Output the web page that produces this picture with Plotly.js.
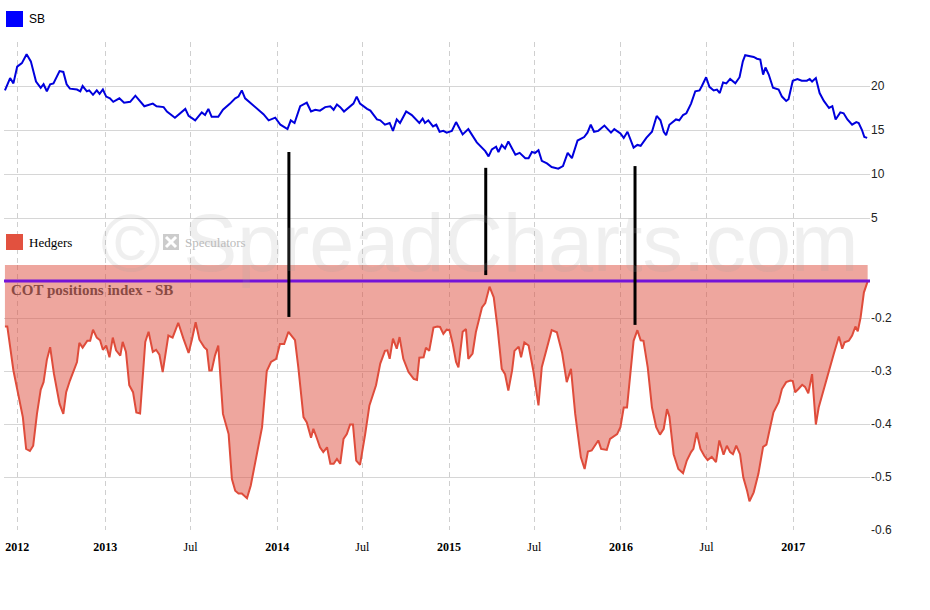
<!DOCTYPE html>
<html>
<head>
<meta charset="utf-8">
<script src="https://cdn.plot.ly/plotly-3.0.1.min.js"></script>
<style>
  html, body { margin: 0; padding: 0; background: #fff; }
  #chart { width: 930px; height: 610px; }
</style>
</head>
<body>
<div id="chart"></div>
<script>
// SB price (upper pane)
const sbDates = [
  '2012-06-02','2012-06-13','2012-06-20','2012-06-28','2012-07-08','2012-07-18','2012-07-27','2012-08-07','2012-08-17','2012-08-23',
  '2012-08-30','2012-09-06','2012-09-13','2012-09-26','2012-10-04','2012-10-11','2012-10-18','2012-11-02','2012-11-09','2012-11-14',
  '2012-11-23','2012-11-28','2012-12-06','2012-12-14','2012-12-20','2012-12-27',
  '2013-01-03','2013-01-11','2013-01-18','2013-01-31','2013-02-10','2013-02-23','2013-03-06','2013-03-16','2013-03-25','2013-04-12',
  '2013-04-20','2013-05-05','2013-05-12','2013-05-29','2013-06-16','2013-06-20','2013-06-27','2013-07-11','2013-07-25','2013-08-01',
  '2013-08-08','2013-08-15','2013-08-29','2013-09-08','2013-09-23','2013-10-04','2013-10-11','2013-10-18','2013-10-25','2013-11-12',
  '2013-11-26','2013-12-03','2013-12-14','2013-12-28',
  '2014-01-08','2014-01-23','2014-01-30','2014-02-07','2014-02-19','2014-03-05','2014-03-14','2014-03-23','2014-04-02','2014-04-13',
  '2014-04-24','2014-05-01','2014-05-08','2014-05-15','2014-05-23','2014-06-07','2014-06-12','2014-06-19','2014-06-26','2014-07-11',
  '2014-07-18','2014-08-01','2014-08-08','2014-08-18','2014-08-28','2014-09-04','2014-09-12','2014-09-19','2014-10-02','2014-10-14',
  '2014-10-30','2014-11-06','2014-11-11','2014-11-18','2014-11-28','2014-12-05','2014-12-12','2014-12-20','2014-12-27',
  '2015-01-07','2015-01-16','2015-01-30','2015-02-11','2015-03-01','2015-03-12','2015-03-19','2015-03-26','2015-04-02','2015-04-11',
  '2015-04-16','2015-04-23','2015-04-30','2015-05-07','2015-05-15','2015-05-22','2015-05-31','2015-06-12','2015-06-19','2015-06-26',
  '2015-07-03','2015-07-10','2015-07-17','2015-07-28','2015-08-07','2015-08-21','2015-08-31','2015-09-10','2015-09-19','2015-10-01',
  '2015-10-15','2015-10-22','2015-10-29','2015-11-05','2015-11-14','2015-11-27','2015-12-11','2015-12-18','2015-12-31',
  '2016-01-07','2016-01-15','2016-01-22','2016-01-28','2016-02-05','2016-02-12','2016-02-24','2016-03-07','2016-03-17','2016-03-25',
  '2016-04-01','2016-04-06','2016-04-13','2016-04-27','2016-05-04','2016-05-12','2016-05-19','2016-05-29','2016-06-07','2016-06-16',
  '2016-06-21','2016-06-30','2016-07-07','2016-07-16','2016-07-23','2016-07-29','2016-08-05','2016-08-12','2016-08-20','2016-08-31',
  '2016-09-09','2016-09-16','2016-09-21','2016-10-02','2016-10-09','2016-10-16','2016-10-23','2016-10-29','2016-11-03','2016-11-10',
  '2016-11-19','2016-12-01','2016-12-08','2016-12-17','2016-12-22','2016-12-31',
  '2017-01-10','2017-01-19','2017-01-30','2017-02-05','2017-02-10','2017-02-18','2017-02-26','2017-03-07','2017-03-18','2017-03-25',
  '2017-04-01','2017-04-11','2017-04-18','2017-04-26','2017-05-06','2017-05-15','2017-05-20','2017-05-27','2017-06-01','2017-06-07'
];
const sbPrice = [
  19.5,20.9,20.3,22.2,22.6,23.6,22.8,20.5,19.8,20.2,
  19.4,20.2,20.3,21.7,21.6,20.2,19.7,19.6,19.4,20.0,
  19.4,19.5,19.0,19.5,19.1,19.6,
  18.8,18.6,18.2,18.6,18.1,18.2,18.9,18.2,17.7,18.0,
  17.7,17.6,17.1,16.4,17.3,17.4,16.6,16.1,17.0,16.7,
  17.4,16.5,16.5,17.3,18.0,18.6,18.8,19.5,18.6,17.8,
  17.2,16.8,16.1,16.4,
  15.6,15.1,16.1,15.8,17.7,18.1,17.1,17.3,17.2,17.6,
  17.7,17.3,17.9,17.6,17.1,17.8,18.0,18.8,18.0,17.4,
  17.2,16.2,16.1,15.6,15.8,14.9,16.2,15.8,17.1,16.7,
  15.8,16.3,15.8,16.1,15.4,15.6,14.8,14.9,14.7,
  14.9,15.9,14.5,15.1,13.6,13.0,12.6,12.0,12.8,13.1,
  12.5,13.3,12.9,13.7,12.9,12.2,12.4,11.8,11.8,12.5,
  12.4,12.7,11.5,11.2,10.8,10.6,10.9,12.4,11.8,13.8,
  14.2,14.7,15.6,14.8,14.9,15.5,14.7,15.1,14.6,
  14.1,14.8,13.9,13.0,13.3,13.2,14.1,14.8,16.6,16.1,
  14.8,14.4,15.6,16.2,16.1,16.7,16.9,18.0,19.4,19.5,
  20.0,21.0,19.9,19.5,19.6,19.2,20.4,20.3,20.8,20.3,
  21.0,22.8,23.5,23.4,23.3,23.1,23.0,21.3,22.1,21.3,
  19.8,19.6,18.8,18.3,18.5,20.6,
  20.8,20.6,20.6,20.8,20.5,20.9,19.2,18.3,17.5,17.7,
  16.2,17.0,16.9,16.2,15.6,15.9,15.8,15.0,14.2,14.1
];

// COT positions index, hedgers (lower pane)
const cotDates = [
  '2012-06-02','2012-06-07','2012-06-20','2012-07-01','2012-07-10','2012-07-17','2012-07-25','2012-08-01','2012-08-09','2012-08-17',
  '2012-08-23','2012-08-30','2012-09-06','2012-09-14','2012-09-26','2012-10-04','2012-10-10','2012-10-18','2012-11-02','2012-11-07',
  '2012-11-14','2012-11-24','2012-11-30','2012-12-06','2012-12-14','2012-12-21','2012-12-27',
  '2013-01-03','2013-01-10','2013-01-17','2013-01-24','2013-02-02','2013-02-07','2013-02-14','2013-02-21','2013-03-01','2013-03-08',
  '2013-03-16','2013-03-27','2013-04-03','2013-04-12','2013-04-19','2013-04-26','2013-05-03','2013-05-15','2013-05-24','2013-06-05',
  '2013-06-16','2013-06-27','2013-07-04','2013-07-12','2013-07-20','2013-07-30','2013-08-05','2013-08-10','2013-08-15','2013-08-22',
  '2013-08-29','2013-09-08','2013-09-20','2013-09-27','2013-10-04','2013-10-11','2013-10-18','2013-10-29','2013-11-06','2013-11-17',
  '2013-11-30','2013-12-10','2013-12-19','2013-12-30',
  '2014-01-07','2014-01-16','2014-01-25','2014-02-08','2014-02-15','2014-02-26','2014-03-05','2014-03-14','2014-03-19','2014-03-26',
  '2014-04-02','2014-04-09','2014-04-17','2014-04-24','2014-05-01','2014-05-08','2014-05-15','2014-05-22','2014-05-29','2014-06-05',
  '2014-06-11','2014-06-18','2014-06-26','2014-07-07','2014-07-16','2014-07-30','2014-08-08','2014-08-18','2014-08-23','2014-08-28',
  '2014-09-04','2014-09-12','2014-09-18','2014-09-26','2014-10-07','2014-10-18','2014-10-25','2014-10-30','2014-11-08','2014-11-13',
  '2014-11-20','2014-11-29','2014-12-07','2014-12-13','2014-12-20','2014-12-27',
  '2015-01-02','2015-01-09','2015-01-16','2015-01-21','2015-01-30','2015-02-06','2015-02-11','2015-02-20','2015-02-27','2015-03-12',
  '2015-03-19','2015-03-28','2015-04-06','2015-04-14','2015-04-23','2015-04-30','2015-05-07','2015-05-15','2015-05-20','2015-05-29',
  '2015-06-03','2015-06-10','2015-06-19','2015-06-29','2015-07-10','2015-07-17','2015-07-26','2015-08-07','2015-08-18','2015-08-29',
  '2015-09-08','2015-09-17','2015-09-26','2015-10-08','2015-10-16','2015-10-23','2015-10-31','2015-11-14','2015-11-20','2015-12-02',
  '2015-12-09','2015-12-24','2015-12-31',
  '2016-01-07','2016-01-14','2016-01-21','2016-01-28','2016-02-05','2016-02-12','2016-02-18','2016-02-27','2016-03-07','2016-03-16',
  '2016-03-24','2016-04-01','2016-04-08','2016-04-13','2016-04-22','2016-05-02','2016-05-12','2016-05-20','2016-05-29','2016-06-03',
  '2016-06-10','2016-06-18','2016-06-26','2016-07-03','2016-07-12','2016-07-21','2016-07-28','2016-08-06','2016-08-13','2016-08-20',
  '2016-08-26','2016-09-02','2016-09-10','2016-09-17','2016-09-25','2016-09-30','2016-10-09','2016-10-19','2016-10-29','2016-11-05',
  '2016-11-13','2016-11-20','2016-12-01','2016-12-08','2016-12-17','2016-12-26','2016-12-31',
  '2017-01-05','2017-01-12','2017-01-20','2017-01-26','2017-02-02','2017-02-10','2017-02-18','2017-02-24','2017-03-07','2017-03-17',
  '2017-03-28','2017-04-08','2017-04-15','2017-04-20','2017-04-29','2017-05-06','2017-05-13','2017-05-18','2017-05-24','2017-05-31',
  '2017-06-08'
];
const hedgers = [
  -0.216,-0.216,-0.299,-0.349,-0.387,-0.447,-0.451,-0.441,-0.381,-0.335,
  -0.321,-0.279,-0.255,-0.305,-0.362,-0.381,-0.340,-0.318,-0.283,-0.247,
  -0.256,-0.243,-0.243,-0.222,-0.237,-0.242,-0.260,
  -0.252,-0.274,-0.237,-0.261,-0.271,-0.245,-0.264,-0.327,-0.340,-0.378,
  -0.380,-0.245,-0.226,-0.264,-0.260,-0.269,-0.302,-0.233,-0.237,-0.209,
  -0.239,-0.266,-0.241,-0.208,-0.241,-0.255,-0.260,-0.299,-0.299,-0.271,
  -0.252,-0.381,-0.419,-0.504,-0.526,-0.531,-0.531,-0.540,-0.516,-0.463,
  -0.406,-0.300,-0.283,-0.277,
  -0.249,-0.249,-0.226,-0.242,-0.293,-0.387,-0.397,-0.426,-0.409,-0.426,
  -0.444,-0.453,-0.444,-0.475,-0.475,-0.466,-0.475,-0.428,-0.419,-0.401,
  -0.401,-0.469,-0.477,-0.419,-0.365,-0.327,-0.286,-0.262,-0.261,-0.277,
  -0.239,-0.258,-0.236,-0.277,-0.302,-0.315,-0.317,-0.275,-0.274,-0.256,
  -0.262,-0.218,-0.216,-0.217,-0.230,-0.222,
  -0.223,-0.249,-0.283,-0.293,-0.226,-0.221,-0.277,-0.267,-0.227,-0.180,
  -0.172,-0.141,-0.161,-0.218,-0.296,-0.306,-0.337,-0.299,-0.262,-0.254,
  -0.274,-0.246,-0.252,-0.299,-0.365,-0.293,-0.263,-0.223,-0.227,-0.265,
  -0.321,-0.296,-0.381,-0.463,-0.485,-0.452,-0.450,-0.431,-0.447,-0.449,
  -0.428,-0.419,-0.406,
  -0.369,-0.369,-0.309,-0.243,-0.223,-0.242,-0.243,-0.293,-0.369,-0.406,
  -0.420,-0.409,-0.372,-0.386,-0.457,-0.485,-0.493,-0.469,-0.453,-0.447,
  -0.416,-0.447,-0.460,-0.468,-0.462,-0.472,-0.431,-0.458,-0.441,-0.453,
  -0.457,-0.441,-0.457,-0.501,-0.526,-0.546,-0.529,-0.494,-0.443,-0.439,
  -0.406,-0.378,-0.359,-0.334,-0.321,-0.318,-0.319,
  -0.340,-0.334,-0.326,-0.330,-0.342,-0.306,-0.401,-0.369,-0.334,-0.299,
  -0.268,-0.235,-0.258,-0.246,-0.243,-0.233,-0.216,-0.225,-0.199,-0.152,
  -0.131
];

// black marker lines: date, top (price pane), bottom (cot pane)
const signalDates = ['2014-01-26', '2015-03-20', '2016-01-31'];
const signalTop = [12.5, 10.7, 10.9];
const signalBottom = [-0.198, -0.119, -0.213];
const cotLevel = -0.13;

const xTickVals = ['2012-06-28','2013-01-01','2013-07-01','2014-01-01','2014-07-01',
                   '2015-01-01','2015-07-01','2016-01-01','2016-07-01','2017-01-01'];
const xTickText = ['<b>2012</b>','<b>2013</b>','Jul','<b>2014</b>','Jul',
                   '<b>2015</b>','Jul','<b>2016</b>','Jul','<b>2017</b>'];
const priceTicks = [5, 10, 15, 20, 25];
const priceTickText = ['5', '10', '15', '20', ''];
const cotTicks = [-0.6, -0.5, -0.4, -0.3, -0.2];

const priceRange = [-0.34, 25];
const cotRange = [-0.6, -0.1];

// pixel helpers for legend boxes / labels
const W = 930, H = 610;
const M = { l: 4, r: 60, t: 42, b: 80 };
const pw = W - M.l - M.r, ph = H - M.t - M.b;
const px = x => (x - M.l) / pw;
const py = y => (H - M.b - y) / ph;
const split = py(265);

const serif = '"Liberation Serif", "DejaVu Serif", serif';
const sans = '"Liberation Sans", Arial, sans-serif';

const traces = [
  {
    x: cotDates, y: hedgers,
    type: 'scatter', mode: 'lines', name: 'Hedgers',
    fill: 'tozeroy', fillcolor: 'rgba(222,78,62,0.5)',
    line: { color: '#df4c3b', width: 2 },
    xaxis: 'x', yaxis: 'y', hoverinfo: 'skip'
  },
  {
    x: sbDates, y: sbPrice,
    type: 'scatter', mode: 'lines', name: 'SB',
    line: { color: '#0000dd', width: 2 },
    xaxis: 'x', yaxis: 'y2', hoverinfo: 'skip'
  }
];

const shapes = [];
// threshold line
shapes.push({
  type: 'line', xref: 'paper', yref: 'y', x0: 0, x1: 1, y0: cotLevel, y1: cotLevel,
  line: { color: '#7414d8', width: 3 }
});
// vertical signals, split across the two panes
signalDates.forEach((d, i) => {
  shapes.push({ type: 'line', xref: 'x', yref: 'y2', x0: d, x1: d, y0: priceRange[0], y1: signalTop[i],
                line: { color: '#000', width: 3 } });
  shapes.push({ type: 'line', xref: 'x', yref: 'y', x0: d, x1: d, y0: signalBottom[i], y1: cotRange[1],
                line: { color: '#000', width: 3 } });
});
// legend boxes
shapes.push({ type: 'rect', xref: 'paper', yref: 'paper', x0: px(6), x1: px(23), y0: py(27), y1: py(11),
              fillcolor: '#0000ff', line: { width: 0 } });
shapes.push({ type: 'rect', xref: 'paper', yref: 'paper', x0: px(6), x1: px(23), y0: py(250), y1: py(234),
              fillcolor: '#e2513f', line: { width: 0 } });
shapes.push({ type: 'rect', xref: 'paper', yref: 'paper', x0: px(163), x1: px(179), y0: py(250), y1: py(234),
              fillcolor: '#cccccc', line: { width: 0 } });
shapes.push({ type: 'line', xref: 'paper', yref: 'paper', x0: px(166), x1: px(176), y0: py(237), y1: py(247),
              line: { color: '#fff', width: 3 } });
shapes.push({ type: 'line', xref: 'paper', yref: 'paper', x0: px(176), x1: px(166), y0: py(237), y1: py(247),
              line: { color: '#fff', width: 3 } });

const annotations = [
  { xref: 'paper', yref: 'paper', x: px(479), y: py(243), text: '© SpreadCharts.com', showarrow: false,
    font: { family: sans, size: 81, color: 'rgba(160,160,160,0.17)' }, xanchor: 'center', yanchor: 'middle' },
  { xref: 'paper', yref: 'paper', x: px(27), y: py(19), text: 'SB', showarrow: false,
    font: { family: sans, size: 12, color: '#000' }, xanchor: 'left', yanchor: 'middle' },
  { xref: 'paper', yref: 'paper', x: px(27), y: py(242), text: 'Hedgers', showarrow: false,
    font: { family: serif, size: 13, color: '#000' }, xanchor: 'left', yanchor: 'middle' },
  { xref: 'paper', yref: 'paper', x: px(183), y: py(242), text: 'Speculators', showarrow: false,
    font: { family: serif, size: 13, color: '#bbbbbb' }, xanchor: 'left', yanchor: 'middle' },
  { xref: 'paper', yref: 'paper', x: px(9), y: py(290), text: '<b>COT positions index - SB</b>', showarrow: false,
    font: { family: serif, size: 15, color: '#8a4a44' }, xanchor: 'left', yanchor: 'middle' }
];

const layout = {
  width: W, height: H,
  margin: M,
  paper_bgcolor: '#fff',
  plot_bgcolor: '#fff',
  showlegend: false,
  xaxis: {
    type: 'date', range: ['2012-05-31', '2017-06-13'], anchor: 'y',
    tickvals: xTickVals, ticktext: xTickText,
    ticks: 'outside', ticklen: 6, tickcolor: 'rgba(0,0,0,0)',
    showgrid: true, gridcolor: '#cfcfcf', griddash: '5px,4px', gridwidth: 1,
    zeroline: false, showline: false,
    tickfont: { family: serif, size: 12, color: '#000' }
  },
  yaxis: {
    domain: [0, split], range: cotRange, side: 'right', anchor: 'x',
    tickvals: cotTicks, ticktext: cotTicks.map(v => v.toFixed(1)), ticks: '',
    gridcolor: '#d6d6d6', zeroline: false,
    tickfont: { family: sans, size: 12, color: '#222' }
  },
  yaxis2: {
    domain: [split, 1], range: priceRange, side: 'right', anchor: 'x',
    tickvals: priceTicks, ticktext: priceTickText, ticks: '',
    gridcolor: '#d6d6d6', zeroline: false,
    tickfont: { family: sans, size: 12, color: '#222' }
  },
  shapes: shapes,
  annotations: annotations
};

Plotly.newPlot('chart', traces, layout, { displayModeBar: false, staticPlot: true });
</script>
</body>
</html>
